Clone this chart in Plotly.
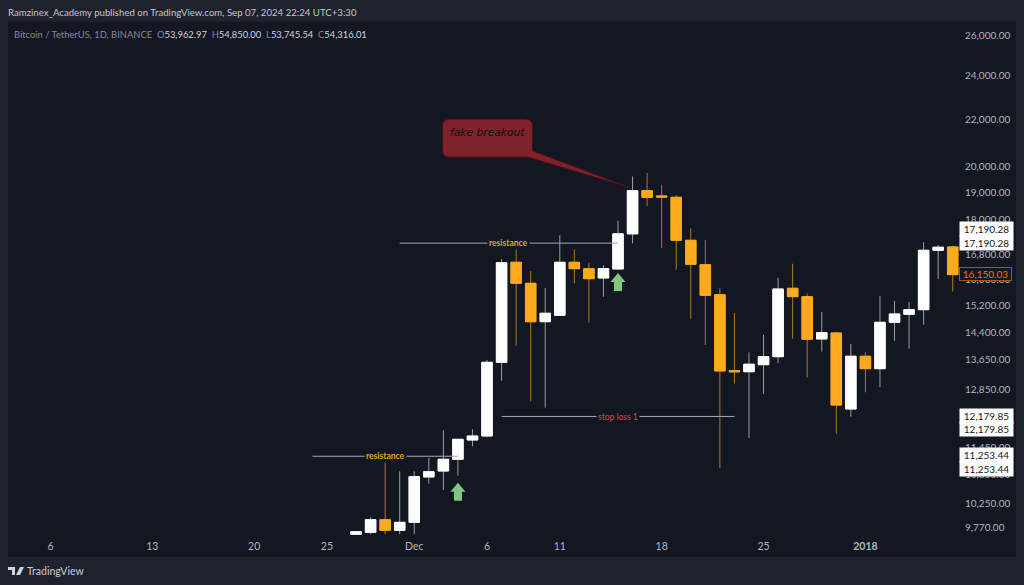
import plotly.graph_objects as go

# ---------- data ----------
dates = ["2017-11-27","2017-11-28","2017-11-29","2017-11-30","2017-12-01","2017-12-02","2017-12-03","2017-12-04",
         "2017-12-05","2017-12-06","2017-12-07","2017-12-08","2017-12-09","2017-12-10","2017-12-11","2017-12-12",
         "2017-12-13","2017-12-14","2017-12-15","2017-12-16","2017-12-17","2017-12-18","2017-12-19","2017-12-20",
         "2017-12-21","2017-12-22","2017-12-23","2017-12-24","2017-12-25","2017-12-26","2017-12-27","2017-12-28",
         "2017-12-29","2017-12-30","2017-12-31","2018-01-01","2018-01-02","2018-01-03","2018-01-04","2018-01-05",
         "2018-01-06","2018-01-07"]
opens = [9637,9674,9920,9713,9868,10800,10928,11186,11623,11716,13564,16548,15871,14705,14893,16548,16339,16040,
         16330,17510,19080,18880,18830,17288,16470,15515,13340,13313,13501,13717,15715,15455,14208,14378,12362,13728,
         13394,14687,14923,15060,16948,17060]
highs = [9690,9968,11282,10922,10922,11215,11850,11646,11873,13627,16657,17128,16265,15724,17460,16982,16534,16450,
         17975,19630,19762,19310,18918,17706,17298,15715,14962,13837,14322,16050,16500,15550,14992,14407,14069,13846,
         15475,15322,15292,17220,17128,17105]
lows = [9630,9637,9637,9637,9637,10656,10524,10825,11478,11686,13078,14020,12553,12394,14872,15871,14675,15455,
        16307,17180,18508,17025,16307,14793,14040,10987,13000,11670,12737,13545,14217,13167,13854,11770,12175,12780,
        12908,14160,13937,14617,16008,15608]
closes = [9686,9920,9713,9868,10806,10913,11186,11639,11716,13564,16534,15871,14705,14953,16548,16339,16018,16339,
          17510,19080,18830,18842,17288,16483,15497,13333,13313,13512,13717,15692,15455,14200,14387,12460,13728,13394,
          14687,14932,15060,16948,17050,16147]

x_tick_dates = ["2017-11-06","2017-11-13","2017-11-20","2017-11-25","2017-12-01","2017-12-06","2017-12-11",
                "2017-12-18","2017-12-25","2018-01-01"]
x_tick_text = ["6","13","20","25","Dec","6","11","18","25","<b>2018</b>"]
y_tick_vals = [26000,24000,22000,20000,19000,18000,16800,16000,15200,14400,13650,12850,11450,10850,10250,9770]
y_tick_text = ["26,000.00","24,000.00","22,000.00","20,000.00","19,000.00","18,000.00","16,800.00","16,000.00",
               "15,200.00","14,400.00","13,650.00","12,850.00","11,450.00","10,850.00","10,250.00","9,770.00"]

res1_x = ["2017-11-24","2017-12-04"]; res1_y = [11253.44,11253.44]
res2_x = ["2017-11-30","2017-12-15"]; res2_y = [17190.28,17190.28]
stop_x = ["2017-12-07","2017-12-23"]; stop_y = [12179.85,12179.85]

header_text = "Ramzinex_Academy published on TradingView.com, Sep 07, 2024 22:24 UTC+3:30"
symbol_text = "Bitcoin / TetherUS, 1D, BINANCE"
ohlc_labels = ["O","H","L","C"]
ohlc_values = ["53,962.97","54,850.00","53,745.54","54,316.01"]
price_labels = ["17,190.28","17,190.28","12,179.85","12,179.85","11,253.44","11,253.44"]
last_label = "16,150.03"

# ---------- style ----------
W, H = 1024, 585
L, R, T, B = 8, 960, 22, 535
FRAME, PANE = "#1e222d", "#131722"
WHITE, WHITE_WICK = "#ffffff", "#9b9da3"
ORANGE, ORANGE_WICK = "#fdaa1c", "#ad7a20"
GREEN, RED = "#81c784", "#7f222c"
TEXT = "#b2b5be"
FONT = "Lato"

def px(x): return (x - L) / (R - L)
def py(y): return (B - y) / (B - T)

def ann(x, y, text, **kw):
    base = dict(xref="paper", yref="paper", x=px(x), y=py(y), text=text, showarrow=False,
                xanchor="left", yanchor="middle", font=dict(family=FONT, size=10, color=TEXT))
    base.update(kw)
    return base

fig = go.Figure()
# wicks
fig.add_trace(go.Candlestick(
    x=dates, open=opens, high=highs, low=lows, close=closes, whiskerwidth=0,
    increasing=dict(line=dict(color=WHITE_WICK, width=1), fillcolor=WHITE),
    decreasing=dict(line=dict(color=ORANGE_WICK, width=1), fillcolor=ORANGE),
    showlegend=False, hoverinfo="skip"))
# bodies, with an edge in the body's own colour
fig.add_trace(go.Candlestick(
    x=dates, open=opens, close=closes,
    high=[max(o, c) for o, c in zip(opens, closes)],
    low=[min(o, c) for o, c in zip(opens, closes)], whiskerwidth=0,
    increasing=dict(line=dict(color=WHITE, width=1), fillcolor=WHITE),
    decreasing=dict(line=dict(color=ORANGE, width=1), fillcolor=ORANGE),
    showlegend=False, hoverinfo="skip"))
for xs, ys in [(res1_x, res1_y), (res2_x, res2_y), (stop_x, stop_y)]:
    fig.add_trace(go.Scatter(x=xs, y=ys, mode="lines", line=dict(color="#a6a8ad", width=1),
                             showlegend=False, hoverinfo="skip"))

annotations = [
    ann(6, 12, header_text, font=dict(family=FONT, size=9.65, color="#c3c6ce")),
    ann(12, 34, symbol_text + "&nbsp;&nbsp;" + "&nbsp;&nbsp;".join(
        f'<span style="color:#868993">{a}</span><span style="color:#d1d4dc">{b}</span>'
        for a, b in zip(ohlc_labels, ohlc_values)), font=dict(family=FONT, size=9.4, color="#868993")),
    dict(xref="x", yref="y", x="2017-11-29", y=4.0513, yanchor="middle", text="<b>resistance</b>", showarrow=False,
         bgcolor=PANE, font=dict(family=FONT, size=8.5, color="#e8a020")),
    dict(xref="x", yref="y", x="2017-12-07 12:00", y=4.2353, yanchor="middle", text="<b>resistance</b>", showarrow=False,
         bgcolor=PANE, font=dict(family=FONT, size=8.5, color="#e8a020")),
    dict(xref="x", yref="y", x="2017-12-15", y=4.0856, yanchor="middle", text="stop loss 1", showarrow=False,
         bgcolor=PANE, font=dict(family=FONT, size=8.5, color="#e53945")),
    ann(448, 132, "<i>fake breakout</i>", font=dict(family="DejaVu Sans", size=10.7, color="#120a0c")),
    ann(25, 571, "TradingView", font=dict(family=FONT, size=10.5, color="#c9ccd4")),
]
for yc, text in zip([229.5, 243, 415.5, 429, 455, 468.5], price_labels):
    annotations.append(ann(959, yc, text, width=53, height=13.5, bgcolor="#ffffff", borderpad=0, align="center",
                           font=dict(family=FONT, size=10, color="#131722")))
annotations.append(ann(959, 274, last_label, width=51, height=12, bgcolor=PANE, bordercolor="#a5590f",
                       borderwidth=1, borderpad=0, align="center", font=dict(family=FONT, size=10, color="#e8750f")))

def arrow(date, price):
    return dict(type="path", xref="x", yref="y", xsizemode="pixel", ysizemode="pixel",
                xanchor=date, yanchor=price, fillcolor=GREEN, line=dict(width=0), layer="above",
                path="M 0 0 L 7.5 -9 L 4 -9 L 4 -18 L -4 -18 L -4 -9 L -7.5 -9 Z")

shapes = [
    dict(type="rect", xref="paper", yref="paper", x0=0, x1=px(1016), y0=py(556.5), y1=1,
         fillcolor=PANE, line=dict(width=0), layer="below"),
    arrow("2017-12-04", 10678),
    arrow("2017-12-15", 16200),
    dict(type="path", xref="x", yref="y", xsizemode="pixel", ysizemode="pixel",
         xanchor="2017-12-16", yanchor=19215, fillcolor=RED, line=dict(color="#4a1018", width=1), layer="above",
         path="M -4 0 L -100 36.3 L -100 61 Q -100 68 -107 68 L -183 68 Q -190 68 -190 61 L -190 37 "
              "Q -190 30 -183 30 L -105 30 Z"),
    # TradingView logo
    dict(type="path", xref="paper", yref="paper", fillcolor="#d1d4dc", line=dict(width=0), layer="above",
         path=" ".join([f"{c} {px(x):.5f} {py(y):.5f}" for c, x, y in
                        [("M",8,567),("L",15,567),("L",15,575),("L",12,575),("L",12,570),("L",8,570)]]) + " Z"),
    dict(type="path", xref="paper", yref="paper", fillcolor="#d1d4dc", line=dict(width=0), layer="above",
         path=" ".join([f"{c} {px(x):.5f} {py(y):.5f}" for c, x, y in
                        [("M",20,567),("L",24,567),("L",20,575),("L",16,575)]]) + " Z"),
]

fig.update_layout(
    width=W, height=H, autosize=False, margin=dict(l=L, r=W - R, t=T, b=H - B),
    paper_bgcolor=FRAME, plot_bgcolor=PANE, boxmode="overlay", boxgap=0.28, boxgroupgap=0, showlegend=False,
    annotations=annotations, shapes=shapes,
    xaxis=dict(type="date", range=["2017-11-03 02:00", "2018-01-07 12:00"], rangeslider=dict(visible=False),
               tickmode="array", tickvals=x_tick_dates, ticktext=x_tick_text, showgrid=False, zeroline=False,
               showline=False, ticks="", ticklabelstandoff=3, tickfont=dict(family=FONT, size=10.5, color=TEXT)),
    yaxis=dict(type="log", side="right", range=[3.9833, 4.4262], tickmode="array", tickvals=y_tick_vals,
               ticktext=y_tick_text, showgrid=False, zeroline=False, showline=False, ticks="",
               ticklabelstandoff=4, tickfont=dict(family=FONT, size=10, color=TEXT)),
)
fig.write_html("out.html", config=dict(displayModeBar=False),
               post_script="document.body.style.margin='0';document.documentElement.style.background='#1e222d';")
